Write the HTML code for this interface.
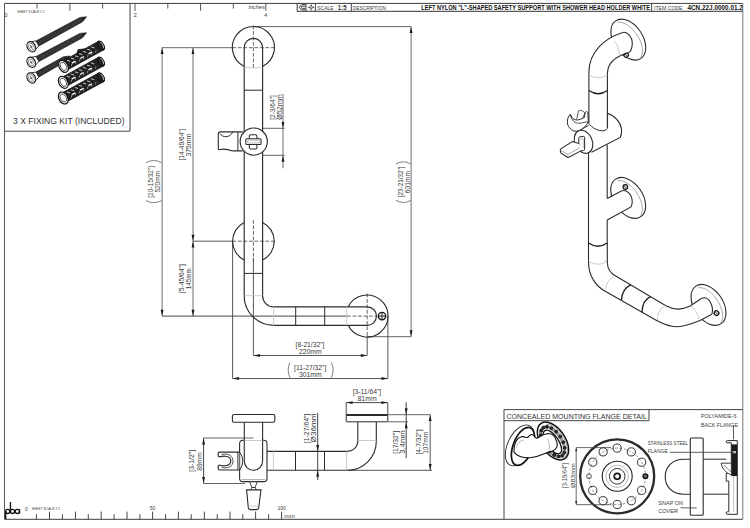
<!DOCTYPE html>
<html><head><meta charset="utf-8"><style>
html,body{margin:0;padding:0;background:#fff;width:750px;height:528px;overflow:hidden}
svg{display:block}
text{font-family:"Liberation Sans",sans-serif}
</style></head><body>
<svg width="750" height="528" viewBox="0 0 750 528">
<line x1="4.5" y1="3.4" x2="742.8" y2="3.4" stroke="#3c3c3c" stroke-width="1.0" />
<line x1="4.5" y1="3.4" x2="4.5" y2="519.3" stroke="#555" stroke-width="1.0" />
<line x1="4.5" y1="519.3" x2="742.8" y2="519.3" stroke="#3c3c3c" stroke-width="1.0" />
<line x1="742.8" y1="3.4" x2="742.8" y2="519.3" stroke="#777" stroke-width="1.0" />
<line x1="37.0" y1="3.4" x2="37.0" y2="8.6" stroke="#444" stroke-width="0.9" />
<line x1="69.9" y1="3.4" x2="69.9" y2="10.8" stroke="#444" stroke-width="0.9" />
<line x1="102.6" y1="3.4" x2="102.6" y2="8.6" stroke="#444" stroke-width="0.9" />
<line x1="135.0" y1="3.4" x2="135.0" y2="10.8" stroke="#444" stroke-width="0.9" />
<line x1="167.8" y1="3.4" x2="167.8" y2="8.6" stroke="#444" stroke-width="0.9" />
<line x1="200.6" y1="3.4" x2="200.6" y2="10.8" stroke="#444" stroke-width="0.9" />
<line x1="233.3" y1="3.4" x2="233.3" y2="8.6" stroke="#444" stroke-width="0.9" />
<line x1="265.8" y1="3.4" x2="265.8" y2="10.8" stroke="#444" stroke-width="0.9" />
<text x="6.0" y="16.5" font-size="6.0" text-anchor="middle" fill="#3a3a3a" font-weight="normal" font-style="normal" textLength="3.0" lengthAdjust="spacingAndGlyphs" >0</text>
<text x="135.3" y="16.6" font-size="6.0" text-anchor="middle" fill="#3a3a3a" font-weight="normal" font-style="normal" textLength="3.0" lengthAdjust="spacingAndGlyphs" >2</text>
<text x="265.8" y="16.6" font-size="6.0" text-anchor="middle" fill="#3a3a3a" font-weight="normal" font-style="normal" textLength="3.0" lengthAdjust="spacingAndGlyphs" >4</text>
<text x="248.4" y="9.2" font-size="5.0" text-anchor="start" fill="#3a3a3a" font-weight="normal" font-style="italic" textLength="16.4" lengthAdjust="spacingAndGlyphs" >inches</text>
<text x="17" y="13.2" font-size="3.3" text-anchor="start" fill="#3a3a3a" font-weight="normal" font-style="italic" textLength="27.5" lengthAdjust="spacingAndGlyphs" >SHEET SCALE 1:1</text>
<line x1="297.2" y1="11.3" x2="742.8" y2="11.3" stroke="#333" stroke-width="1.0" />
<line x1="297.2" y1="3.4" x2="297.2" y2="11.3" stroke="#333" stroke-width="1.0" />
<line x1="306.0" y1="3.4" x2="306.0" y2="11.3" stroke="#333" stroke-width="0.9" />
<line x1="315.4" y1="3.4" x2="315.4" y2="11.3" stroke="#333" stroke-width="0.9" />
<line x1="351.3" y1="3.4" x2="351.3" y2="11.3" stroke="#333" stroke-width="0.9" />
<line x1="651.6" y1="3.4" x2="651.6" y2="11.3" stroke="#333" stroke-width="0.9" />
<path d="M305.6,4.7 L301.6,4.7 L299.2,7.3 L301.6,9.9 L305.6,9.9" stroke="#333" stroke-width="1.0" fill="none" />
<path d="M305.6,6.2 L302.4,6.2 Q301.4,6.2 301.4,7.3 Q301.4,8.4 302.4,8.4 L305.6,8.4" stroke="#333" stroke-width="0.9" fill="none" />
<path d="M311.2,4.2 L310.1,6.3 L312.3,6.3 Z M311.2,10.6 L310.1,8.5 L312.3,8.5 Z M307.9,7.4 L310.0,6.3 L310.0,8.5 Z M314.5,7.4 L312.4,6.3 L312.4,8.5 Z" stroke="none" stroke-width="0" fill="#2a2a2a" />
<line x1="308.5" y1="7.4" x2="314" y2="7.4" stroke="#777" stroke-width="0.5" />
<line x1="311.2" y1="4.8" x2="311.2" y2="10" stroke="#777" stroke-width="0.5" />
<text x="317.2" y="9.8" font-size="5.4" text-anchor="start" fill="#3a3a3a" font-weight="normal" font-style="normal" textLength="16.4" lengthAdjust="spacingAndGlyphs" >SCALE</text>
<text x="337.8" y="9.9" font-size="6.3" text-anchor="start" fill="#3a3a3a" font-weight="bold" font-style="normal" textLength="9.0" lengthAdjust="spacingAndGlyphs" >1:5</text>
<text x="352.7" y="9.8" font-size="5.0" text-anchor="start" fill="#3a3a3a" font-weight="normal" font-style="normal" textLength="33.3" lengthAdjust="spacingAndGlyphs" >DESCRIPTION</text>
<text x="421.3" y="9.9" font-size="6.3" text-anchor="start" fill="#111" font-weight="bold" font-style="normal" textLength="228.7" lengthAdjust="spacingAndGlyphs" >LEFT NYLON "L"-SHAPED SAFETY SUPPORT WITH SHOWER HEAD HOLDER WHITE</text>
<text x="654" y="9.9" font-size="5.5" text-anchor="start" fill="#3a3a3a" font-weight="normal" font-style="normal" textLength="28.5" lengthAdjust="spacingAndGlyphs" >ITEM CODE</text>
<text x="687.4" y="10.0" font-size="6.5" text-anchor="start" fill="#111" font-weight="bold" font-style="normal" textLength="55.5" lengthAdjust="spacingAndGlyphs" >4CN.22J.0000.01.2</text>
<line x1="130.0" y1="3.4" x2="130.0" y2="131.2" stroke="#444" stroke-width="1.0" />
<line x1="4.5" y1="131.2" x2="130.0" y2="131.2" stroke="#444" stroke-width="1.0" />
<text x="68.8" y="124.2" font-size="9.6" text-anchor="middle" fill="#333" font-weight="normal" font-style="normal" textLength="111.5" lengthAdjust="spacingAndGlyphs" >3 X FIXING KIT (INCLUDED)</text>
<path d="M38.84,46.01 L82.42,21.86 L86.50,16.80 L80.03,17.47 L36.07,40.91 Z" fill="#262626" stroke="#1a1a1a" stroke-width="0.7"/>
<path d="M39.68,44.41 L38.65,40.64" stroke="#999" stroke-width="0.3"/>
<path d="M41.34,43.50 L40.32,39.73" stroke="#999" stroke-width="0.3"/>
<path d="M43.01,42.60 L41.99,38.83" stroke="#999" stroke-width="0.3"/>
<path d="M44.68,41.69 L43.66,37.92" stroke="#999" stroke-width="0.3"/>
<path d="M46.35,40.78 L45.33,37.01" stroke="#999" stroke-width="0.3"/>
<path d="M48.02,39.87 L47.00,36.11" stroke="#999" stroke-width="0.3"/>
<path d="M49.69,38.97 L48.67,35.20" stroke="#999" stroke-width="0.3"/>
<path d="M51.36,38.06 L50.34,34.29" stroke="#999" stroke-width="0.3"/>
<path d="M53.03,37.15 L52.01,33.38" stroke="#999" stroke-width="0.3"/>
<path d="M54.70,36.25 L53.68,32.48" stroke="#999" stroke-width="0.3"/>
<path d="M56.37,35.34 L55.35,31.57" stroke="#999" stroke-width="0.3"/>
<path d="M58.04,34.43 L57.02,30.66" stroke="#999" stroke-width="0.3"/>
<path d="M59.71,33.52 L58.68,29.75" stroke="#999" stroke-width="0.3"/>
<path d="M61.38,32.62 L60.35,28.85" stroke="#999" stroke-width="0.3"/>
<path d="M63.05,31.71 L62.02,27.94" stroke="#999" stroke-width="0.3"/>
<path d="M64.72,30.80 L63.69,27.03" stroke="#999" stroke-width="0.3"/>
<path d="M66.39,29.89 L65.36,26.13" stroke="#999" stroke-width="0.3"/>
<path d="M68.06,28.99 L67.03,25.22" stroke="#999" stroke-width="0.3"/>
<path d="M69.72,28.08 L68.70,24.31" stroke="#999" stroke-width="0.3"/>
<path d="M71.39,27.17 L70.37,23.40" stroke="#999" stroke-width="0.3"/>
<path d="M73.06,26.27 L72.04,22.50" stroke="#999" stroke-width="0.3"/>
<path d="M74.73,25.36 L73.71,21.59" stroke="#999" stroke-width="0.3"/>
<path d="M76.40,24.45 L75.38,20.68" stroke="#999" stroke-width="0.3"/>
<path d="M78.07,23.54 L77.05,19.77" stroke="#999" stroke-width="0.3"/>
<path d="M79.74,22.64 L78.72,18.87" stroke="#999" stroke-width="0.3"/>
<path d="M81.41,21.73 L80.39,17.96" stroke="#999" stroke-width="0.3"/>
<path d="M33.83,51.46 L38.84,46.01 L36.07,40.91 L28.77,42.14 Z" fill="#fff" stroke="#222" stroke-width="0.9"/>
<ellipse cx="31.3" cy="46.8" rx="4.0" ry="5.4" transform="rotate(-28.52311860631203 31.3 46.8)" stroke="#1e1e1e" stroke-width="1.2" fill="#fff" />
<ellipse cx="31.3" cy="46.8" rx="2.6" ry="3.6" transform="rotate(-28.52311860631203 31.3 46.8)" stroke="#555" stroke-width="0.6" fill="#fff" />
<path d="M30.34,45.04 L32.26,48.56 M29.98,47.52 L32.62,46.08" stroke="#444" stroke-width="0.8"/>
<path d="M38.84,61.56 L82.39,37.83 L86.50,32.80 L80.03,33.42 L36.11,56.44 Z" fill="#262626" stroke="#1a1a1a" stroke-width="0.7"/>
<path d="M39.69,59.97 L38.69,56.19" stroke="#999" stroke-width="0.3"/>
<path d="M41.37,59.07 L40.37,55.30" stroke="#999" stroke-width="0.3"/>
<path d="M43.04,58.18 L42.05,54.40" stroke="#999" stroke-width="0.3"/>
<path d="M44.72,57.28 L43.72,53.51" stroke="#999" stroke-width="0.3"/>
<path d="M46.40,56.39 L45.40,52.61" stroke="#999" stroke-width="0.3"/>
<path d="M48.07,55.49 L47.07,51.72" stroke="#999" stroke-width="0.3"/>
<path d="M49.75,54.60 L48.75,50.82" stroke="#999" stroke-width="0.3"/>
<path d="M51.42,53.70 L50.42,49.92" stroke="#999" stroke-width="0.3"/>
<path d="M53.10,52.81 L52.10,49.03" stroke="#999" stroke-width="0.3"/>
<path d="M54.77,51.91 L53.78,48.13" stroke="#999" stroke-width="0.3"/>
<path d="M56.45,51.01 L55.45,47.24" stroke="#999" stroke-width="0.3"/>
<path d="M58.12,50.12 L57.13,46.34" stroke="#999" stroke-width="0.3"/>
<path d="M59.80,49.22 L58.80,45.45" stroke="#999" stroke-width="0.3"/>
<path d="M61.48,48.33 L60.48,44.55" stroke="#999" stroke-width="0.3"/>
<path d="M63.15,47.43 L62.15,43.66" stroke="#999" stroke-width="0.3"/>
<path d="M64.83,46.54 L63.83,42.76" stroke="#999" stroke-width="0.3"/>
<path d="M66.50,45.64 L65.51,41.87" stroke="#999" stroke-width="0.3"/>
<path d="M68.18,44.75 L67.18,40.97" stroke="#999" stroke-width="0.3"/>
<path d="M69.85,43.85 L68.86,40.07" stroke="#999" stroke-width="0.3"/>
<path d="M71.53,42.95 L70.53,39.18" stroke="#999" stroke-width="0.3"/>
<path d="M73.21,42.06 L72.21,38.28" stroke="#999" stroke-width="0.3"/>
<path d="M74.88,41.16 L73.88,37.39" stroke="#999" stroke-width="0.3"/>
<path d="M76.56,40.27 L75.56,36.49" stroke="#999" stroke-width="0.3"/>
<path d="M78.23,39.37 L77.24,35.60" stroke="#999" stroke-width="0.3"/>
<path d="M79.91,38.48 L78.91,34.70" stroke="#999" stroke-width="0.3"/>
<path d="M81.58,37.58 L80.59,33.81" stroke="#999" stroke-width="0.3"/>
<path d="M33.80,66.97 L38.84,61.56 L36.11,56.44 L28.80,57.63 Z" fill="#fff" stroke="#222" stroke-width="0.9"/>
<ellipse cx="31.3" cy="62.3" rx="4.0" ry="5.4" transform="rotate(-28.12095139944644 31.3 62.3)" stroke="#1e1e1e" stroke-width="1.2" fill="#fff" />
<ellipse cx="31.3" cy="62.3" rx="2.6" ry="3.6" transform="rotate(-28.12095139944644 31.3 62.3)" stroke="#555" stroke-width="0.6" fill="#fff" />
<path d="M30.36,60.54 L32.24,64.06 M29.98,63.01 L32.62,61.59" stroke="#444" stroke-width="0.8"/>
<path d="M38.82,77.06 L66.02,61.14 L70.00,56.00 L63.55,56.79 L35.95,72.02 Z" fill="#262626" stroke="#1a1a1a" stroke-width="0.7"/>
<path d="M39.63,75.45 L38.53,71.70" stroke="#999" stroke-width="0.3"/>
<path d="M41.28,74.51 L40.18,70.76" stroke="#999" stroke-width="0.3"/>
<path d="M42.93,73.57 L41.84,69.82" stroke="#999" stroke-width="0.3"/>
<path d="M44.58,72.63 L43.49,68.89" stroke="#999" stroke-width="0.3"/>
<path d="M46.24,71.70 L45.14,67.95" stroke="#999" stroke-width="0.3"/>
<path d="M47.89,70.76 L46.79,67.01" stroke="#999" stroke-width="0.3"/>
<path d="M49.54,69.82 L48.44,66.07" stroke="#999" stroke-width="0.3"/>
<path d="M51.19,68.88 L50.10,65.13" stroke="#999" stroke-width="0.3"/>
<path d="M52.84,67.94 L51.75,64.19" stroke="#999" stroke-width="0.3"/>
<path d="M54.49,67.00 L53.40,63.25" stroke="#999" stroke-width="0.3"/>
<path d="M56.15,66.06 L55.05,62.31" stroke="#999" stroke-width="0.3"/>
<path d="M57.80,65.12 L56.70,61.37" stroke="#999" stroke-width="0.3"/>
<path d="M59.45,64.18 L58.35,60.43" stroke="#999" stroke-width="0.3"/>
<path d="M61.10,63.24 L60.01,59.50" stroke="#999" stroke-width="0.3"/>
<path d="M62.75,62.31 L61.66,58.56" stroke="#999" stroke-width="0.3"/>
<path d="M64.40,61.37 L63.31,57.62" stroke="#999" stroke-width="0.3"/>
<path d="M33.92,82.61 L38.82,77.06 L35.95,72.02 L28.68,73.39 Z" fill="#fff" stroke="#222" stroke-width="0.9"/>
<ellipse cx="31.3" cy="78.0" rx="4.0" ry="5.4" transform="rotate(-29.61716731617809 31.3 78.0)" stroke="#1e1e1e" stroke-width="1.2" fill="#fff" />
<ellipse cx="31.3" cy="78.0" rx="2.6" ry="3.6" transform="rotate(-29.61716731617809 31.3 78.0)" stroke="#555" stroke-width="0.6" fill="#fff" />
<path d="M30.31,76.26 L32.29,79.74 M30.00,78.74 L32.60,77.26" stroke="#444" stroke-width="0.8"/>
<path d="M65.93,70.77 L103.43,49.97 L98.57,41.23 L61.07,62.03 Z" fill="#222" stroke="#111" stroke-width="0.8"/>
<path d="M76.82,53.30 L78.18,49.57 L84.69,48.93 Z" fill="#222" stroke="#111" stroke-width="0.8"/>
<path d="M67.00,60.34 L70.26,61.28" stroke="#eee" stroke-width="0.8"/>
<path d="M71.37,66.15 L71.97,63.53" stroke="#ccc" stroke-width="0.6"/>
<path d="M71.02,58.11 L74.29,59.04" stroke="#eee" stroke-width="0.8"/>
<path d="M75.39,63.92 L75.99,61.30" stroke="#ccc" stroke-width="0.6"/>
<path d="M75.05,55.88 L78.31,56.81" stroke="#eee" stroke-width="0.8"/>
<path d="M79.41,61.69 L80.02,59.07" stroke="#ccc" stroke-width="0.6"/>
<path d="M79.07,53.65 L82.33,54.58" stroke="#eee" stroke-width="0.8"/>
<path d="M83.44,59.46 L84.04,56.84" stroke="#ccc" stroke-width="0.6"/>
<path d="M83.09,51.42 L86.35,52.35" stroke="#eee" stroke-width="0.8"/>
<path d="M87.46,57.23 L88.06,54.61" stroke="#ccc" stroke-width="0.6"/>
<path d="M87.11,49.19 L90.38,50.12" stroke="#eee" stroke-width="0.8"/>
<path d="M91.48,55.00 L92.08,52.37" stroke="#ccc" stroke-width="0.6"/>
<path d="M91.14,46.95 L94.40,47.89" stroke="#eee" stroke-width="0.8"/>
<path d="M95.50,52.77 L96.11,50.14" stroke="#ccc" stroke-width="0.6"/>
<path d="M71.95,63.08 L75.45,61.14" stroke="#fff" stroke-width="1.3"/>
<path d="M80.26,58.48 L83.76,56.54" stroke="#fff" stroke-width="1.3"/>
<path d="M88.57,53.87 L92.07,51.93" stroke="#fff" stroke-width="1.3"/>
<ellipse cx="101.0" cy="45.6" rx="2.8" ry="5.0" transform="rotate(-29.01567152555858 101.0 45.6)" stroke="#111" stroke-width="1.0" fill="#222" />
<path d="M103.75,48.08 Q103.62,44.14 100.35,41.96" stroke="#eee" stroke-width="0.8" fill="none"/>
<ellipse cx="63.5" cy="66.4" rx="4.4" ry="6.4" transform="rotate(-29.01567152555858 63.5 66.4)" stroke="#111" stroke-width="1.2" fill="#fff" />
<ellipse cx="63.5" cy="66.4" rx="2.8" ry="4.3" transform="rotate(-29.01567152555858 63.5 66.4)" stroke="#333" stroke-width="0.8" fill="#fff" />
<path d="M65.71,86.68 L103.41,65.98 L98.59,57.22 L60.89,77.92 Z" fill="#222" stroke="#111" stroke-width="0.8"/>
<path d="M66.83,76.26 L70.09,77.21" stroke="#eee" stroke-width="0.8"/>
<path d="M71.17,82.09 L71.78,79.47" stroke="#ccc" stroke-width="0.6"/>
<path d="M70.86,74.04 L74.12,74.99" stroke="#eee" stroke-width="0.8"/>
<path d="M75.20,79.87 L75.82,77.25" stroke="#ccc" stroke-width="0.6"/>
<path d="M74.89,71.83 L78.15,72.78" stroke="#eee" stroke-width="0.8"/>
<path d="M79.23,77.66 L79.85,75.04" stroke="#ccc" stroke-width="0.6"/>
<path d="M78.92,69.61 L82.18,70.56" stroke="#eee" stroke-width="0.8"/>
<path d="M83.27,75.44 L83.88,72.83" stroke="#ccc" stroke-width="0.6"/>
<path d="M82.96,67.40 L86.21,68.35" stroke="#eee" stroke-width="0.8"/>
<path d="M87.30,73.23 L87.91,70.61" stroke="#ccc" stroke-width="0.6"/>
<path d="M86.99,65.19 L90.25,66.14" stroke="#eee" stroke-width="0.8"/>
<path d="M91.33,71.02 L91.94,68.40" stroke="#ccc" stroke-width="0.6"/>
<path d="M91.02,62.97 L94.28,63.92" stroke="#eee" stroke-width="0.8"/>
<path d="M95.36,68.80 L95.98,66.18" stroke="#ccc" stroke-width="0.6"/>
<path d="M71.77,79.02 L75.27,77.10" stroke="#fff" stroke-width="1.3"/>
<path d="M80.09,74.45 L83.60,72.52" stroke="#fff" stroke-width="1.3"/>
<path d="M88.42,69.88 L91.93,67.95" stroke="#fff" stroke-width="1.3"/>
<ellipse cx="101.0" cy="61.6" rx="2.8" ry="5.0" transform="rotate(-28.769939063476432 101.0 61.6)" stroke="#111" stroke-width="1.0" fill="#222" />
<path d="M103.74,64.09 Q103.63,60.16 100.37,57.95" stroke="#eee" stroke-width="0.8" fill="none"/>
<ellipse cx="63.3" cy="82.3" rx="4.4" ry="6.4" transform="rotate(-28.769939063476432 63.3 82.3)" stroke="#111" stroke-width="1.2" fill="#fff" />
<ellipse cx="63.3" cy="82.3" rx="2.8" ry="4.3" transform="rotate(-28.769939063476432 63.3 82.3)" stroke="#333" stroke-width="0.8" fill="#fff" />
<path d="M65.70,102.39 L103.40,81.79 L98.60,73.01 L60.90,93.61 Z" fill="#222" stroke="#111" stroke-width="0.8"/>
<path d="M66.84,91.96 L70.10,92.92" stroke="#eee" stroke-width="0.8"/>
<path d="M71.17,97.80 L71.79,95.18" stroke="#ccc" stroke-width="0.6"/>
<path d="M70.88,89.76 L74.13,90.71" stroke="#eee" stroke-width="0.8"/>
<path d="M75.21,95.60 L75.83,92.98" stroke="#ccc" stroke-width="0.6"/>
<path d="M74.91,87.55 L78.17,88.51" stroke="#eee" stroke-width="0.8"/>
<path d="M79.24,93.39 L79.86,90.77" stroke="#ccc" stroke-width="0.6"/>
<path d="M78.95,85.35 L82.21,86.30" stroke="#eee" stroke-width="0.8"/>
<path d="M83.28,91.19 L83.90,88.57" stroke="#ccc" stroke-width="0.6"/>
<path d="M82.99,83.14 L86.24,84.10" stroke="#eee" stroke-width="0.8"/>
<path d="M87.32,88.98 L87.94,86.36" stroke="#ccc" stroke-width="0.6"/>
<path d="M87.02,80.94 L90.28,81.89" stroke="#eee" stroke-width="0.8"/>
<path d="M91.35,86.77 L91.97,84.16" stroke="#ccc" stroke-width="0.6"/>
<path d="M91.06,78.73 L94.32,79.68" stroke="#eee" stroke-width="0.8"/>
<path d="M95.39,84.57 L96.01,81.95" stroke="#ccc" stroke-width="0.6"/>
<path d="M71.77,94.74 L75.28,92.82" stroke="#fff" stroke-width="1.3"/>
<path d="M80.11,90.18 L83.62,88.26" stroke="#fff" stroke-width="1.3"/>
<path d="M88.45,85.63 L91.96,83.71" stroke="#fff" stroke-width="1.3"/>
<ellipse cx="101.0" cy="77.4" rx="2.8" ry="5.0" transform="rotate(-28.65303500980133 101.0 77.4)" stroke="#111" stroke-width="1.0" fill="#222" />
<path d="M103.73,79.90 Q103.63,75.96 100.37,73.75" stroke="#eee" stroke-width="0.8" fill="none"/>
<ellipse cx="63.3" cy="98.0" rx="4.4" ry="6.4" transform="rotate(-28.65303500980133 63.3 98.0)" stroke="#111" stroke-width="1.2" fill="#fff" />
<ellipse cx="63.3" cy="98.0" rx="2.8" ry="4.3" transform="rotate(-28.65303500980133 63.3 98.0)" stroke="#333" stroke-width="0.8" fill="#fff" />
<line x1="161.7" y1="47.7" x2="232.4" y2="47.7" stroke="#555" stroke-width="0.9" />
<line x1="162.1" y1="47.7" x2="162.1" y2="316.1" stroke="#5e5e5e" stroke-width="0.9" />
<line x1="193.0" y1="47.7" x2="193.0" y2="316.1" stroke="#5e5e5e" stroke-width="0.9" />
<line x1="193.0" y1="241.2" x2="232.4" y2="241.2" stroke="#444" stroke-width="0.9" />
<line x1="162.1" y1="316.1" x2="347" y2="316.1" stroke="#333" stroke-width="0.9" />
<path d="M162.10,47.90 L163.55,54.10 L160.65,54.10 Z" fill="#1a1a1a"/>
<path d="M162.10,315.90 L160.65,309.70 L163.55,309.70 Z" fill="#1a1a1a"/>
<path d="M193.00,47.90 L194.45,54.10 L191.55,54.10 Z" fill="#1a1a1a"/>
<path d="M193.00,241.00 L191.55,234.80 L194.45,234.80 Z" fill="#1a1a1a"/>
<path d="M193.00,241.40 L194.45,247.60 L191.55,247.60 Z" fill="#1a1a1a"/>
<path d="M193.00,315.90 L191.55,309.70 L194.45,309.70 Z" fill="#1a1a1a"/>
<line x1="254" y1="26.6" x2="411.1" y2="26.6" stroke="#555" stroke-width="0.9" />
<line x1="411.1" y1="26.6" x2="411.1" y2="336.7" stroke="#5e5e5e" stroke-width="0.9" />
<line x1="367.2" y1="336.7" x2="411.1" y2="336.7" stroke="#555" stroke-width="0.9" />
<path d="M411.10,26.80 L412.55,33.00 L409.65,33.00 Z" fill="#1a1a1a"/>
<path d="M411.10,336.50 L409.65,330.30 L412.55,330.30 Z" fill="#1a1a1a"/>
<line x1="262.6" y1="128.3" x2="284.5" y2="128.3" stroke="#555" stroke-width="0.9" />
<line x1="262.6" y1="155.3" x2="284.5" y2="155.3" stroke="#555" stroke-width="0.9" />
<line x1="283.0" y1="94.2" x2="283.0" y2="168.3" stroke="#5e5e5e" stroke-width="0.9" />
<path d="M283.00,128.10 L281.55,121.90 L284.45,121.90 Z" fill="#1a1a1a"/>
<path d="M283.00,155.50 L284.45,161.70 L281.55,161.70 Z" fill="#1a1a1a"/>
<line x1="253.4" y1="258" x2="253.4" y2="355.5" stroke="#444" stroke-width="0.9" />
<line x1="367.2" y1="337" x2="367.2" y2="355.5" stroke="#444" stroke-width="0.9" />
<line x1="253.4" y1="355.5" x2="367.2" y2="355.5" stroke="#444" stroke-width="0.9" />
<path d="M253.60,355.50 L259.80,354.05 L259.80,356.95 Z" fill="#1a1a1a"/>
<path d="M367.00,355.50 L360.80,356.95 L360.80,354.05 Z" fill="#1a1a1a"/>
<line x1="232.6" y1="241.2" x2="232.6" y2="378.5" stroke="#444" stroke-width="0.9" />
<line x1="387.9" y1="316.1" x2="387.9" y2="378.5" stroke="#444" stroke-width="0.9" />
<line x1="232.6" y1="378.5" x2="387.9" y2="378.5" stroke="#444" stroke-width="0.9" />
<path d="M232.80,378.50 L239.00,377.05 L239.00,379.95 Z" fill="#1a1a1a"/>
<path d="M387.70,378.50 L381.50,379.95 L381.50,377.05 Z" fill="#1a1a1a"/>
<text x="153.3" y="181.8" font-size="7.8" text-anchor="middle" fill="#3a3a3a" font-weight="normal" font-style="normal" transform="rotate(-90 153.3 181.8)" textLength="31.8" lengthAdjust="spacingAndGlyphs" >[20-15/32"]</text>
<text x="160.2" y="181.8" font-size="6.9" text-anchor="middle" fill="#3a3a3a" font-weight="normal" font-style="normal" transform="rotate(-90 160.2 181.8)" textLength="21.6" lengthAdjust="spacingAndGlyphs" >520mm</text>
<path d="M146,162.6 Q153.8,158.4 161.5,162.6" stroke="#5e5e5e" stroke-width="0.8" fill="none" />
<path d="M146,200.6 Q153.8,204.8 161.5,200.6" stroke="#5e5e5e" stroke-width="0.8" fill="none" />
<text x="184.4" y="144.5" font-size="7.8" text-anchor="middle" fill="#3a3a3a" font-weight="normal" font-style="normal" transform="rotate(-90 184.4 144.5)" textLength="31.9" lengthAdjust="spacingAndGlyphs" >[14-49/64"]</text>
<text x="191.5" y="145.2" font-size="6.9" text-anchor="middle" fill="#3a3a3a" font-weight="normal" font-style="normal" transform="rotate(-90 191.5 145.2)" textLength="22.7" lengthAdjust="spacingAndGlyphs" >375mm</text>
<text x="184.4" y="278.7" font-size="7.8" text-anchor="middle" fill="#3a3a3a" font-weight="normal" font-style="normal" transform="rotate(-90 184.4 278.7)" textLength="29" lengthAdjust="spacingAndGlyphs" >[5-45/64"]</text>
<text x="191.5" y="278.7" font-size="6.9" text-anchor="middle" fill="#3a3a3a" font-weight="normal" font-style="normal" transform="rotate(-90 191.5 278.7)" textLength="21" lengthAdjust="spacingAndGlyphs" >145mm</text>
<text x="274.7" y="107.5" font-size="7.8" text-anchor="middle" fill="#3a3a3a" font-weight="normal" font-style="normal" transform="rotate(-90 274.7 107.5)" textLength="24.6" lengthAdjust="spacingAndGlyphs" >[2-3/64"]</text>
<text x="281.7" y="107.0" font-size="6.9" text-anchor="middle" fill="#3a3a3a" font-weight="normal" font-style="normal" transform="rotate(-90 281.7 107.0)" textLength="25.6" lengthAdjust="spacingAndGlyphs" >Ø52mm</text>
<text x="402.7" y="181.9" font-size="7.8" text-anchor="middle" fill="#3a3a3a" font-weight="normal" font-style="normal" transform="rotate(-90 402.7 181.9)" textLength="30.7" lengthAdjust="spacingAndGlyphs" >[23-21/32"]</text>
<text x="409.7" y="182.1" font-size="6.9" text-anchor="middle" fill="#3a3a3a" font-weight="normal" font-style="normal" transform="rotate(-90 409.7 182.1)" textLength="22.2" lengthAdjust="spacingAndGlyphs" >601mm</text>
<path d="M396,164 Q403.5,159.6 411,164" stroke="#5e5e5e" stroke-width="0.8" fill="none" />
<path d="M396,200.3 Q403.5,204.7 411,200.3" stroke="#5e5e5e" stroke-width="0.8" fill="none" />
<text x="310.0" y="346.9" font-size="7.5" text-anchor="middle" fill="#3a3a3a" font-weight="normal" font-style="normal" textLength="28.9" lengthAdjust="spacingAndGlyphs" >[8-21/32"]</text>
<text x="310.3" y="354.0" font-size="7.2" text-anchor="middle" fill="#3a3a3a" font-weight="normal" font-style="normal" textLength="22.8" lengthAdjust="spacingAndGlyphs" >220mm</text>
<text x="310.2" y="369.6" font-size="7.5" text-anchor="middle" fill="#3a3a3a" font-weight="normal" font-style="normal" textLength="32.4" lengthAdjust="spacingAndGlyphs" >[11-27/32"]</text>
<text x="310.3" y="376.8" font-size="7.2" text-anchor="middle" fill="#3a3a3a" font-weight="normal" font-style="normal" textLength="22.8" lengthAdjust="spacingAndGlyphs" >301mm</text>
<path d="M290,362.5 Q286.3,370 290,377.6" stroke="#5e5e5e" stroke-width="0.8" fill="none" />
<path d="M331.3,362.5 Q335,370 331.3,377.6" stroke="#5e5e5e" stroke-width="0.8" fill="none" />
<path d="M262.6,66.4 A21,21 0 1 0 244.2,66.4" stroke="#2b2b2b" stroke-width="1.15" fill="none" />
<path d="M244.2,222.4 A21,21 0 0 0 244.2,260.0" stroke="#2b2b2b" stroke-width="1.15" fill="none" />
<path d="M262.6,222.4 A21,21 0 0 1 262.6,260.0" stroke="#2b2b2b" stroke-width="1.15" fill="none" />
<line x1="253.4" y1="25.5" x2="253.4" y2="69.5" stroke="#4a4a4a" stroke-width="0.85" stroke-dasharray="3.8,1.7"/>
<line x1="232.4" y1="47.7" x2="275" y2="47.7" stroke="#4a4a4a" stroke-width="0.85" stroke-dasharray="3.8,1.7"/>
<line x1="253.4" y1="220" x2="253.4" y2="262" stroke="#4a4a4a" stroke-width="0.85" stroke-dasharray="3.8,1.7"/>
<line x1="232.4" y1="241.2" x2="275" y2="241.2" stroke="#4a4a4a" stroke-width="0.85" stroke-dasharray="3.8,1.7"/>
<line x1="367.2" y1="293.5" x2="367.2" y2="337" stroke="#4a4a4a" stroke-width="0.85" stroke-dasharray="3.8,1.7"/>
<line x1="347" y1="316.1" x2="376" y2="316.1" stroke="#4a4a4a" stroke-width="0.85" stroke-dasharray="3.8,1.7"/>
<path d="M244.2,295.7 L244.2,47.6 A9.2,9.2 0 0 1 262.6,47.6 L262.6,295.7" stroke="#2b2b2b" stroke-width="1.15" fill="none" />
<line x1="244.2" y1="67.7" x2="262.6" y2="67.7" stroke="#c4c4c4" stroke-width="0.9" />
<line x1="244.2" y1="90.2" x2="262.6" y2="90.2" stroke="#2b2b2b" stroke-width="1.0" />
<line x1="244.2" y1="273.4" x2="262.6" y2="273.4" stroke="#2b2b2b" stroke-width="1.0" />
<line x1="244.2" y1="295.7" x2="262.6" y2="295.7" stroke="#c4c4c4" stroke-width="0.9" />
<path d="M244.2,295.7 A29.4,29.4 0 0 0 273.6,325.3" stroke="#2b2b2b" stroke-width="1.15" fill="none" />
<path d="M262.6,295.7 A11.0,11.0 0 0 0 273.6,306.8" stroke="#2b2b2b" stroke-width="1.15" fill="none" />
<path d="M273.6,306.8 L367.2,306.8 A9.25,9.25 0 0 1 367.2,325.3 L273.6,325.3" stroke="#2b2b2b" stroke-width="1.15" fill="none" />
<line x1="273.6" y1="306.8" x2="273.6" y2="325.3" stroke="#c4c4c4" stroke-width="0.9" />
<line x1="346.7" y1="306.8" x2="346.7" y2="325.3" stroke="#c4c4c4" stroke-width="0.9" />
<line x1="295.7" y1="306.8" x2="295.7" y2="325.3" stroke="#2b2b2b" stroke-width="1.0" />
<line x1="324.7" y1="306.8" x2="324.7" y2="325.3" stroke="#2b2b2b" stroke-width="1.0" />
<path d="M348.2,306.8 A21,21 0 1 1 348.2,325.3" stroke="#2b2b2b" stroke-width="1.15" fill="none" />
<circle cx="382.0" cy="316.1" r="3.7" stroke="#1a1a1a" stroke-width="1.4" fill="#fff" />
<line x1="382.0" y1="313.0" x2="382.0" y2="319.2" stroke="#222" stroke-width="1.0" />
<line x1="378.9" y1="316.1" x2="385.1" y2="316.1" stroke="#222" stroke-width="1.0" />
<path d="M242.8,131.9 L220.3,131.9 Q218.3,131.9 218.3,133.9 L218.3,148.4 Q218.3,150.2 220.2,149.6 C224,148.4 228,149.4 232.7,150.9 L242.8,150.9" stroke="#2b2b2b" stroke-width="1.1" fill="#fff" />
<path d="M219.9,133.5 C222.5,137.5 229,138.6 232.8,132.1" stroke="#2b2b2b" stroke-width="1.0" fill="none" />
<line x1="237.9" y1="131.9" x2="237.9" y2="150.9" stroke="#2b2b2b" stroke-width="1.0" />
<circle cx="253.75" cy="141.6" r="13.6" stroke="#2b2b2b" stroke-width="1.15" fill="#fff" />
<rect x="249.3" y="134.7" width="7.6" height="14.2" rx="1.3" stroke="#2b2b2b" stroke-width="1.05" fill="#fff" />
<rect x="245.8" y="138.7" width="15.3" height="5.7" rx="1.0" stroke="#2b2b2b" stroke-width="1.05" fill="#fff" />
<rect x="247.6" y="140.2" width="11.8" height="2.7" rx="0.6" stroke="#999" stroke-width="0.7" fill="#fff" />
<line x1="203.6" y1="438.0" x2="253.5" y2="438.0" stroke="#555" stroke-width="0.9" />
<line x1="203.6" y1="483.5" x2="245" y2="483.5" stroke="#555" stroke-width="0.9" />
<line x1="203.6" y1="438.0" x2="203.6" y2="483.5" stroke="#333" stroke-width="0.9" />
<path d="M203.60,438.20 L205.05,444.40 L202.15,444.40 Z" fill="#1a1a1a"/>
<path d="M203.60,483.30 L202.15,477.10 L205.05,477.10 Z" fill="#1a1a1a"/>
<text x="194.4" y="460.8" font-size="7.8" text-anchor="middle" fill="#3a3a3a" font-weight="normal" font-style="normal" transform="rotate(-90 194.4 460.8)" textLength="21.8" lengthAdjust="spacingAndGlyphs" >[3-1/2"]</text>
<text x="201.5" y="461.5" font-size="6.9" text-anchor="middle" fill="#3a3a3a" font-weight="normal" font-style="normal" transform="rotate(-90 201.5 461.5)" textLength="18.5" lengthAdjust="spacingAndGlyphs" >89mm</text>
<line x1="317.7" y1="412.9" x2="317.7" y2="480" stroke="#333" stroke-width="0.9" />
<path d="M317.70,451.20 L316.25,445.00 L319.15,445.00 Z" fill="#1a1a1a"/>
<path d="M317.70,470.50 L319.15,476.70 L316.25,476.70 Z" fill="#1a1a1a"/>
<text x="309.4" y="428.4" font-size="7.8" text-anchor="middle" fill="#3a3a3a" font-weight="normal" font-style="normal" transform="rotate(-90 309.4 428.4)" textLength="29.6" lengthAdjust="spacingAndGlyphs" >[1-27/64"]</text>
<text x="315.6" y="428.0" font-size="6.9" text-anchor="middle" fill="#3a3a3a" font-weight="normal" font-style="normal" transform="rotate(-90 315.6 428.0)" textLength="28.8" lengthAdjust="spacingAndGlyphs" >Ø36mm</text>
<line x1="346.2" y1="402.6" x2="346.2" y2="414.5" stroke="#333" stroke-width="0.9" />
<line x1="387.8" y1="402.6" x2="387.8" y2="414.5" stroke="#333" stroke-width="0.9" />
<line x1="346.2" y1="402.6" x2="387.8" y2="402.6" stroke="#333" stroke-width="0.9" />
<path d="M346.40,402.60 L352.60,401.15 L352.60,404.05 Z" fill="#1a1a1a"/>
<path d="M387.60,402.60 L381.40,404.05 L381.40,401.15 Z" fill="#1a1a1a"/>
<text x="367.0" y="394.4" font-size="7.5" text-anchor="middle" fill="#3a3a3a" font-weight="normal" font-style="normal" textLength="28.5" lengthAdjust="spacingAndGlyphs" >[3-11/64"]</text>
<text x="367.1" y="400.9" font-size="7.2" text-anchor="middle" fill="#3a3a3a" font-weight="normal" font-style="normal" textLength="19.2" lengthAdjust="spacingAndGlyphs" >81mm</text>
<line x1="387.8" y1="414.7" x2="430.5" y2="414.7" stroke="#555" stroke-width="0.9" />
<line x1="387.8" y1="421.8" x2="408" y2="421.8" stroke="#555" stroke-width="0.9" />
<line x1="406.2" y1="402.3" x2="406.2" y2="458.3" stroke="#333" stroke-width="0.9" />
<path d="M406.20,414.50 L404.75,408.30 L407.65,408.30 Z" fill="#1a1a1a"/>
<path d="M406.20,422.00 L407.65,428.20 L404.75,428.20 Z" fill="#1a1a1a"/>
<line x1="430.2" y1="414.7" x2="430.2" y2="470.3" stroke="#444" stroke-width="0.9" />
<path d="M430.20,414.90 L431.65,421.10 L428.75,421.10 Z" fill="#1a1a1a"/>
<path d="M430.20,470.10 L428.75,463.90 L431.65,463.90 Z" fill="#1a1a1a"/>
<line x1="347.2" y1="470.3" x2="432" y2="470.3" stroke="#444" stroke-width="0.9" />
<text x="397.9" y="442.4" font-size="7.8" text-anchor="middle" fill="#3a3a3a" font-weight="normal" font-style="normal" transform="rotate(-90 397.9 442.4)" textLength="22.8" lengthAdjust="spacingAndGlyphs" >[17/32"]</text>
<text x="404.7" y="442.0" font-size="6.9" text-anchor="middle" fill="#3a3a3a" font-weight="normal" font-style="normal" transform="rotate(-90 404.7 442.0)" textLength="23.5" lengthAdjust="spacingAndGlyphs" >3.4mm</text>
<text x="421.4" y="442.0" font-size="7.8" text-anchor="middle" fill="#3a3a3a" font-weight="normal" font-style="normal" transform="rotate(-90 421.4 442.0)" textLength="25" lengthAdjust="spacingAndGlyphs" >[4-7/32"]</text>
<text x="428.0" y="442.8" font-size="6.9" text-anchor="middle" fill="#3a3a3a" font-weight="normal" font-style="normal" transform="rotate(-90 428.0 442.8)" textLength="22" lengthAdjust="spacingAndGlyphs" >107mm</text>
<rect x="232.4" y="414.5" width="42.4" height="7.7" rx="1.5" stroke="#2b2b2b" stroke-width="1.1" fill="#fff" />
<line x1="244.3" y1="422.2" x2="244.3" y2="440.4" stroke="#2b2b2b" stroke-width="1.1" />
<line x1="262.6" y1="422.2" x2="262.6" y2="440.4" stroke="#2b2b2b" stroke-width="1.1" />
<path d="M244.3,440.2 L243,440.2 Q239.6,440.2 239.6,444 L239.6,478.5 Q239.6,481.6 242.8,481.6 L263.8,481.6 Q267.0,481.6 267.0,478.5 L267.0,444 Q267.0,440.2 263.8,440.2 L262.6,440.2" stroke="#2b2b2b" stroke-width="1.1" fill="none" />
<line x1="244.3" y1="440.5" x2="262.6" y2="440.5" stroke="#c4c4c4" stroke-width="0.9" />
<line x1="241.5" y1="479.6" x2="265.1" y2="479.6" stroke="#888" stroke-width="0.7" />
<path d="M244.3,440.4 L244.3,461.1 A9.15,9.15 0 0 0 262.6,461.1 L262.6,440.4" stroke="#2b2b2b" stroke-width="1.1" fill="none" />
<path d="M239.3,452.1 L219.5,452.1 Q218.2,452.1 218.2,453.5 L218.2,455.5 Q218.2,457.0 220,456.8 C224,455.5 230.8,456 230.8,461 C230.8,466 224,466.5 220,465.2 Q218.2,465 218.2,466.5 L218.2,468.6 Q218.2,470 219.5,470 L239.3,470" stroke="#2b2b2b" stroke-width="1.15" fill="#fff" />
<path d="M221.6,454.4 C228,453.2 233,455.5 233,461 C233,466.5 228,468.8 221.6,467.6" stroke="#2b2b2b" stroke-width="0.8" fill="none" />
<line x1="237.9" y1="452.1" x2="237.9" y2="470" stroke="#2b2b2b" stroke-width="1.0" />
<path d="M239.6,452.1 Q246,461 239.6,470" stroke="#2b2b2b" stroke-width="1.0" fill="none" />
<path d="M249.6,481.8 L257.3,481.8 L255.0,487.5 L252.0,487.5 Z" stroke="#2b2b2b" stroke-width="0.9" fill="#fff" />
<path d="M246.6,489.9 L261.0,489.9 L258.7,507.8 Q258.5,509.6 256.6,509.6 L250.4,509.6 Q248.5,509.6 248.3,507.8 Z" stroke="#2b2b2b" stroke-width="1.1" fill="#fff" />
<line x1="248.6" y1="506.0" x2="258.4" y2="506.0" stroke="#c4c4c4" stroke-width="0.8" />
<line x1="251.5" y1="487.5" x2="255.5" y2="487.5" stroke="#2b2b2b" stroke-width="0.9" />
<line x1="252.0" y1="487.5" x2="250.5" y2="489.9" stroke="#2b2b2b" stroke-width="0.8" />
<line x1="255.0" y1="487.5" x2="256.5" y2="489.9" stroke="#2b2b2b" stroke-width="0.8" />
<line x1="267.0" y1="451.4" x2="347.2" y2="451.4" stroke="#2b2b2b" stroke-width="1.1" />
<line x1="267.0" y1="470.3" x2="347.2" y2="470.3" stroke="#2b2b2b" stroke-width="1.1" />
<line x1="273.4" y1="451.4" x2="273.4" y2="470.3" stroke="#c4c4c4" stroke-width="0.9" />
<line x1="346.6" y1="451.4" x2="346.6" y2="470.3" stroke="#c4c4c4" stroke-width="0.9" />
<line x1="295.5" y1="451.4" x2="295.5" y2="470.3" stroke="#2b2b2b" stroke-width="1.0" />
<line x1="324.5" y1="451.4" x2="324.5" y2="470.3" stroke="#2b2b2b" stroke-width="1.0" />
<path d="M347.2,470.3 A29.1,29.1 0 0 0 376.3,441.2 L376.3,421.8" stroke="#2b2b2b" stroke-width="1.1" fill="none" />
<path d="M347.2,451.4 A10.4,10.4 0 0 0 357.8,441.0 L357.8,421.8" stroke="#2b2b2b" stroke-width="1.1" fill="none" />
<line x1="357.8" y1="440.5" x2="376.3" y2="440.5" stroke="#c4c4c4" stroke-width="0.9" />
<rect x="346.2" y="414.5" width="41.6" height="7.3" rx="0.8" stroke="#2b2b2b" stroke-width="1.0" fill="#fff" />
<line x1="346.2" y1="415.3" x2="387.8" y2="415.3" stroke="#2a2a2a" stroke-width="1.4" />
<line x1="36.4" y1="514.2" x2="36.4" y2="519.3" stroke="#333" stroke-width="0.9" />
<line x1="49.5" y1="511.6" x2="49.5" y2="519.3" stroke="#333" stroke-width="0.9" />
<line x1="62.4" y1="514.2" x2="62.4" y2="519.3" stroke="#333" stroke-width="0.9" />
<line x1="75.4" y1="511.6" x2="75.4" y2="519.3" stroke="#333" stroke-width="0.9" />
<line x1="88.3" y1="514.2" x2="88.3" y2="519.3" stroke="#333" stroke-width="0.9" />
<line x1="101.2" y1="511.6" x2="101.2" y2="519.3" stroke="#333" stroke-width="0.9" />
<line x1="114.1" y1="514.2" x2="114.1" y2="519.3" stroke="#333" stroke-width="0.9" />
<line x1="127.0" y1="511.6" x2="127.0" y2="519.3" stroke="#333" stroke-width="0.9" />
<line x1="139.9" y1="514.2" x2="139.9" y2="519.3" stroke="#333" stroke-width="0.9" />
<line x1="152.6" y1="511.6" x2="152.6" y2="519.3" stroke="#333" stroke-width="0.9" />
<line x1="165.6" y1="514.2" x2="165.6" y2="519.3" stroke="#333" stroke-width="0.9" />
<line x1="178.4" y1="511.6" x2="178.4" y2="519.3" stroke="#333" stroke-width="0.9" />
<line x1="191.2" y1="514.2" x2="191.2" y2="519.3" stroke="#333" stroke-width="0.9" />
<line x1="204.4" y1="511.6" x2="204.4" y2="519.3" stroke="#333" stroke-width="0.9" />
<line x1="217.2" y1="514.2" x2="217.2" y2="519.3" stroke="#333" stroke-width="0.9" />
<line x1="230.0" y1="511.6" x2="230.0" y2="519.3" stroke="#333" stroke-width="0.9" />
<line x1="242.8" y1="514.2" x2="242.8" y2="519.3" stroke="#333" stroke-width="0.9" />
<line x1="255.6" y1="511.6" x2="255.6" y2="519.3" stroke="#333" stroke-width="0.9" />
<line x1="268.6" y1="514.2" x2="268.6" y2="519.3" stroke="#333" stroke-width="0.9" />
<line x1="281.6" y1="511.6" x2="281.6" y2="519.3" stroke="#333" stroke-width="0.9" />
<text x="26.4" y="510.9" font-size="5.0" text-anchor="middle" fill="#3a3a3a" font-weight="normal" font-style="normal" >0</text>
<text x="31.8" y="510.4" font-size="3.4" text-anchor="start" fill="#3a3a3a" font-weight="normal" font-style="italic" textLength="28" lengthAdjust="spacingAndGlyphs" >SHEET SCALE 1:1</text>
<text x="152.6" y="510.4" font-size="5.0" text-anchor="middle" fill="#3a3a3a" font-weight="normal" font-style="normal" >50</text>
<text x="281.7" y="510.4" font-size="5.0" text-anchor="middle" fill="#3a3a3a" font-weight="normal" font-style="normal" textLength="8.4" lengthAdjust="spacingAndGlyphs" >100</text>
<text x="284.5" y="517.6" font-size="4.6" text-anchor="start" fill="#3a3a3a" font-weight="normal" font-style="italic" textLength="10.3" lengthAdjust="spacingAndGlyphs" >mm</text>
<circle cx="7.7" cy="511.4" r="2.05" stroke="#111" stroke-width="1.35" fill="none" />
<circle cx="12.5" cy="511.4" r="2.05" stroke="#111" stroke-width="1.35" fill="none" />
<circle cx="17.4" cy="511.4" r="2.1" stroke="#111" stroke-width="1.35" fill="none" />
<line x1="5.65" y1="511.4" x2="5.65" y2="519.2" stroke="#111" stroke-width="1.35" />
<line x1="10.45" y1="502.0" x2="10.45" y2="511.8" stroke="#111" stroke-width="1.35" />
<line x1="19.5" y1="509.3" x2="19.5" y2="513.6" stroke="#111" stroke-width="1.35" />
<ellipse cx="628.3" cy="39.6" rx="22.6" ry="14.5" transform="rotate(56 628.3 39.6)" stroke="#2b2b2b" stroke-width="1.1" fill="#fff" />
<path d="M617.55,22.57 L618.36,22.39 L619.22,22.31 L620.12,22.31 L621.06,22.41 L622.03,22.61 L623.03,22.89 L624.05,23.26 L625.09,23.72 L626.14,24.27 L627.20,24.89 L628.25,25.60 L629.31,26.38 L630.35,27.24 L631.38,28.16 L632.39,29.15 L633.38,30.19 L634.34,31.29 L635.26,32.43 L636.15,33.62 L636.99,34.84 L637.78,36.09 L638.53,37.37 L639.21,38.66 L639.84,39.97 L640.41,41.27 L640.91,42.58 L641.35,43.87 L641.72,45.16 L642.01,46.41 L642.24,47.65 L642.39,48.84 L642.46,50.00 L642.46,51.11 L642.39,52.17 L642.24,53.17 L642.02,54.11 L641.72,54.99 L641.36,55.79 L640.92,56.52 L640.42,57.17" stroke="#9a9a9a" stroke-width="0.9" fill="none" />
<path d="M621.5,33 C626,30.5 632.5,36 632.3,44 C632,49 630,52.5 627.5,53 C617,56 607.4,62 607.4,74 L607.4,127.7 L588.9,123.2 L588.9,72 C589,52 605,38 621.5,33 Z" stroke="none" stroke-width="0" fill="#fff" />
<path d="M621.5,33 C605,38 589,52 588.9,72 L588.9,123.2" stroke="#2b2b2b" stroke-width="1.1" fill="none" />
<path d="M627.5,53 C617,56 607.4,62 607.4,74 L607.4,127.7" stroke="#2b2b2b" stroke-width="1.1" fill="none" />
<path d="M621.5,33 C626,30.5 632.5,36 632.3,44 C632,49 630,52.5 627.5,53" stroke="#2b2b2b" stroke-width="1.1" fill="none" />
<path d="M613.8,40.8 C617.5,44 619.5,50 619.5,56.1" stroke="#c4c4c4" stroke-width="0.9" fill="none" />
<path d="M588.9,75 Q598.2,80.5 607.4,75" stroke="#c4c4c4" stroke-width="0.9" fill="none" />
<path d="M588.9,90.5 Q598.2,97 607.4,90.5" stroke="#1e1e1e" stroke-width="1.3" fill="none" />
<ellipse cx="626.3" cy="55.2" rx="2.3" ry="1.9" transform="rotate(-30 626.3 55.2)" stroke="#111" stroke-width="1.1" fill="#fff" />
<line x1="624.9" y1="54.2" x2="627.7" y2="56.2" stroke="#222" stroke-width="0.8" />
<path d="M588.5,123.2 C592,128 598,131 603,130.8 C606,130.5 607.5,129 607.5,127.7" stroke="#2b2b2b" stroke-width="1.0" fill="none" />
<path d="M607.5,113.5 C614,115 620.5,122 621.5,129 C622,133 621,136 620.2,137.4 L591.5,152.3" stroke="#2b2b2b" stroke-width="1.1" fill="none" />
<path d="M607.5,113.5 L607.5,127.7" stroke="#2b2b2b" stroke-width="1.1" fill="none" />
<ellipse cx="583.5" cy="141.8" rx="8.7" ry="12.0" transform="rotate(-24 583.5 141.8)" stroke="#2b2b2b" stroke-width="1.1" fill="#fff" />
<path d="M579.5,130.4 L588.5,125.5" stroke="#2b2b2b" stroke-width="1.0" fill="none" />
<path d="M578.8,138.2 Q578.8,137 580,136.8 L583.4,136.4 Q584.6,136.3 584.6,137.5 L584.6,149.4 Q584.6,150.6 583.4,150.6 L580,150.8 Q578.8,150.9 578.8,149.6 Z" stroke="#2b2b2b" stroke-width="1.0" fill="#fff" />
<path d="M580.2,139 L583.2,138.6 L583.2,148.2" stroke="#aaa" stroke-width="0.7" fill="none" />
<path d="M578.7,143.6 L572.4,141.6 L560.8,148.9 Q560.0,149.5 560.3,150.6 L560.9,152.9 L567.2,157.2 Q568,157.7 568.8,157.3 L581.4,150.6" stroke="#2b2b2b" stroke-width="1.05" fill="#fff" />
<path d="M560.8,150.2 L567.8,154.4 L579.5,148.0 M567.8,154.4 L568.0,157.3" stroke="#888" stroke-width="0.7" fill="none" />
<path d="M567.4,122.6 C567.2,119 568.5,116 570.3,114.4 L572.3,117.8 C574,120.5 579,121 584.6,117.2 L584.8,113.6 C585.5,111 587,111 587.8,112.5 L588.3,121.8 C586,127 580,131.5 574.7,131.2 C570.5,130 567.6,126.5 567.4,122.6 Z" stroke="#2b2b2b" stroke-width="1.0" fill="#fff" />
<path d="M570.3,114.4 C571,120 575,123.8 580,123.2 C584,122.6 587,121.5 588.3,121.8 M576.7,118.8 L578.6,110.8 C580.5,109.8 583.5,110.5 585.5,113.9 M582.6,118.2 L584.8,113.6" stroke="#2b2b2b" stroke-width="0.8" fill="none" />
<line x1="588.5" y1="152.3" x2="588.5" y2="236" stroke="#2b2b2b" stroke-width="1.1" />
<line x1="607.2" y1="144.8" x2="607.2" y2="198.4" stroke="#2b2b2b" stroke-width="1.1" />
<line x1="607.2" y1="220" x2="607.2" y2="243" stroke="#2b2b2b" stroke-width="1.1" />
<ellipse cx="628.2" cy="197.9" rx="22.6" ry="14.5" transform="rotate(56 628.2 197.9)" stroke="#2b2b2b" stroke-width="1.1" fill="#fff" />
<path d="M617.45,180.87 L618.26,180.69 L619.12,180.61 L620.02,180.61 L620.96,180.71 L621.93,180.91 L622.93,181.19 L623.95,181.56 L624.99,182.02 L626.04,182.57 L627.10,183.19 L628.15,183.90 L629.21,184.68 L630.25,185.54 L631.28,186.46 L632.29,187.45 L633.28,188.49 L634.24,189.59 L635.16,190.73 L636.05,191.92 L636.89,193.14 L637.68,194.39 L638.43,195.67 L639.11,196.96 L639.74,198.27 L640.31,199.57 L640.81,200.88 L641.25,202.17 L641.62,203.46 L641.91,204.71 L642.14,205.95 L642.29,207.14 L642.36,208.30 L642.36,209.41 L642.29,210.47 L642.14,211.47 L641.92,212.41 L641.62,213.29 L641.26,214.09 L640.82,214.82 L640.32,215.47" stroke="#9a9a9a" stroke-width="0.9" fill="none" />
<path d="M607.2,198.4 L621.4,191 C626,189 632,194 632.2,201.3 C632.4,204 631.5,206 631,206.9 L607.2,220 Z" stroke="#2b2b2b" stroke-width="0" fill="#fff" />
<path d="M607.2,198.4 L621.4,191 C626,189 632,194 632.2,201.3 C632.4,204 631.5,206 631,206.9 L607.2,220" stroke="#2b2b2b" stroke-width="1.1" fill="none" />
<circle cx="625.3" cy="187.0" r="2.3" stroke="#111" stroke-width="1.2" fill="#fff" />
<line x1="623.9" y1="185.8" x2="626.7" y2="188.2" stroke="#222" stroke-width="0.9" />
<line x1="588.5" y1="236" x2="588.5" y2="262" stroke="#2b2b2b" stroke-width="1.1" />
<ellipse cx="708.5" cy="304.9" rx="22.6" ry="14.5" transform="rotate(56 708.5 304.9)" stroke="#2b2b2b" stroke-width="1.1" fill="#fff" />
<path d="M697.75,287.87 L698.56,287.69 L699.42,287.61 L700.32,287.61 L701.26,287.71 L702.23,287.91 L703.23,288.19 L704.25,288.56 L705.29,289.02 L706.34,289.57 L707.40,290.19 L708.45,290.90 L709.51,291.68 L710.55,292.54 L711.58,293.46 L712.59,294.45 L713.58,295.49 L714.54,296.59 L715.46,297.73 L716.35,298.92 L717.19,300.14 L717.98,301.39 L718.73,302.67 L719.41,303.96 L720.04,305.27 L720.61,306.57 L721.11,307.88 L721.55,309.17 L721.92,310.46 L722.21,311.71 L722.44,312.95 L722.59,314.14 L722.66,315.30 L722.66,316.41 L722.59,317.47 L722.44,318.47 L722.22,319.41 L721.92,320.29 L721.56,321.09 L721.12,321.82 L720.62,322.47" stroke="#9a9a9a" stroke-width="0.9" fill="none" />
<path d="M588.5,262 C588.5,276 596,286.5 605.7,291.6 L655.7,320 C662,323.5 670,327 677.3,326.7 C686,326.5 694,323 700,320.5 L711.9,314.2 C712.8,311 712.5,306 710.5,302.5 C708.5,299 705,297 701.7,298.3 L689.8,306.3 C686,308 682,309 678.4,309.1 C674,309.2 670,308 665.9,305.8 L617,276.8 C611,274 607.3,268.5 607.3,262 Z" stroke="none" stroke-width="0" fill="#fff" />
<path d="M588.5,243 Q597.9,249.5 607.3,243" stroke="#1e1e1e" stroke-width="1.3" fill="none" />
<path d="M588.5,261 Q597.9,267.5 607.3,261" stroke="#c4c4c4" stroke-width="0.9" fill="none" />
<path d="M588.5,262 C588.5,276 596,286.5 605.7,291.6 L655.7,320 C662,323.5 670,327 677.3,326.7 C686,326.5 694,323 700,320.5 L711.9,314.2" stroke="#2b2b2b" stroke-width="1.1" fill="none" />
<path d="M607.3,243 L607.3,262 C607.3,268.5 611,274 617,276.8 L665.9,305.8 C670,308 674,309.2 678.4,309.1 C682,309 686,308 689.8,306.3 L701.7,298.3" stroke="#2b2b2b" stroke-width="1.1" fill="none" />
<path d="M701.7,298.3 C705,297 708.5,299 710.5,302.5 C712.5,306 712.8,311 711.9,314.2" stroke="#2b2b2b" stroke-width="1.1" fill="none" />
<path d="M614.2,276.3 C609,279 606,284 605.7,289.3" stroke="#c4c4c4" stroke-width="0.9" fill="none" />
<path d="M630.7,284.8 C625,287.5 621.8,293 621.4,300.1" stroke="#1e1e1e" stroke-width="1.3" fill="none" />
<path d="M650.6,296.7 C645,299 642.2,305 642,312.6" stroke="#1e1e1e" stroke-width="1.3" fill="none" />
<path d="M665.3,305.2 C660.5,308 657.6,313 657.4,320" stroke="#c4c4c4" stroke-width="0.9" fill="none" />
<path d="M690.9,305.7 C695,309 698,314 698.9,319.3" stroke="#c4c4c4" stroke-width="0.9" fill="none" />
<ellipse cx="716.5" cy="313.1" rx="2.4" ry="2.2" transform="rotate(40 716.5 313.1)" stroke="#111" stroke-width="1.3" fill="#fff" />
<line x1="715.1" y1="311.8" x2="717.9" y2="314.4" stroke="#222" stroke-width="0.9" />
<line x1="504.0" y1="409.6" x2="742.8" y2="409.6" stroke="#444" stroke-width="1.0" />
<line x1="504.0" y1="409.6" x2="504.0" y2="519.3" stroke="#444" stroke-width="1.0" />
<line x1="504.0" y1="420.7" x2="649.0" y2="420.7" stroke="#444" stroke-width="1.0" />
<line x1="649.0" y1="409.6" x2="649.0" y2="420.7" stroke="#444" stroke-width="1.0" />
<text x="506.4" y="418.6" font-size="7.2" text-anchor="start" fill="#333" font-weight="normal" font-style="normal" textLength="140.5" lengthAdjust="spacingAndGlyphs" >CONCEALED MOUNTING FLANGE DETAIL</text>
<circle cx="617.2" cy="476.3" r="37.0" stroke="#2a2a2a" stroke-width="2.3" fill="none" />
<circle cx="617.2" cy="476.3" r="28.2" stroke="#666" stroke-width="0.7" fill="none" stroke-dasharray="2.5,2"/>
<circle cx="617.2" cy="448.1" r="4.1" stroke="#333" stroke-width="1.0" fill="none" />
<circle cx="631.3000000000001" cy="451.8780836132788" r="4.1" stroke="#333" stroke-width="1.0" fill="none" />
<circle cx="641.6219163867212" cy="462.2" r="4.1" stroke="#333" stroke-width="1.0" fill="none" />
<circle cx="645.4000000000001" cy="476.3" r="2.4" stroke="#111" stroke-width="1.3" fill="#666" />
<circle cx="641.6219163867212" cy="490.4" r="4.1" stroke="#333" stroke-width="1.0" fill="none" />
<circle cx="631.3000000000001" cy="500.7219163867212" r="4.1" stroke="#333" stroke-width="1.0" fill="none" />
<circle cx="617.2" cy="504.5" r="4.1" stroke="#333" stroke-width="1.0" fill="none" />
<circle cx="603.1" cy="500.7219163867212" r="4.1" stroke="#333" stroke-width="1.0" fill="none" />
<circle cx="592.7780836132789" cy="490.40000000000003" r="4.1" stroke="#333" stroke-width="1.0" fill="none" />
<circle cx="589.0" cy="476.3" r="2.4" stroke="#444" stroke-width="0.9" fill="none" />
<circle cx="592.7780836132789" cy="462.2" r="4.1" stroke="#333" stroke-width="1.0" fill="none" />
<circle cx="603.1" cy="451.8780836132789" r="4.1" stroke="#333" stroke-width="1.0" fill="none" />
<circle cx="617.2" cy="476.3" r="15.0" stroke="#222" stroke-width="1.1" fill="none" />
<circle cx="617.2" cy="476.3" r="11.2" stroke="#aaa" stroke-width="0.8" fill="none" />
<circle cx="617.2" cy="476.3" r="7.8" stroke="#333" stroke-width="1.0" fill="none" />
<circle cx="617.2" cy="476.3" r="3.0" stroke="#1a1a1a" stroke-width="1.7" fill="none" />
<line x1="576.2" y1="447.6" x2="611" y2="447.6" stroke="#444" stroke-width="0.8" />
<line x1="576.2" y1="504.7" x2="611" y2="504.7" stroke="#444" stroke-width="0.8" />
<line x1="576.2" y1="447.6" x2="576.2" y2="504.7" stroke="#444" stroke-width="0.8" />
<path d="M576.20,447.80 L577.20,451.30 L575.20,451.30 Z" fill="#1a1a1a"/>
<path d="M576.20,504.50 L575.20,501.00 L577.20,501.00 Z" fill="#1a1a1a"/>
<text x="567.4" y="475.6" font-size="6.8" text-anchor="middle" fill="#3a3a3a" font-weight="normal" font-style="normal" transform="rotate(-90 567.4 475.6)" textLength="24.7" lengthAdjust="spacingAndGlyphs" >[3-19/64"]</text>
<text x="575.4" y="475.6" font-size="6.2" text-anchor="middle" fill="#3a3a3a" font-weight="normal" font-style="normal" transform="rotate(-90 575.4 475.6)" textLength="24.7" lengthAdjust="spacingAndGlyphs" >Ø83mm</text>
<ellipse cx="519.8" cy="445.4" rx="22.0" ry="12.0" transform="rotate(-64 519.8 445.4)" stroke="#222" stroke-width="0.9" fill="#fff" />
<ellipse cx="523.0" cy="446.4" rx="20.0" ry="9.8" transform="rotate(-69 523.0 446.4)" stroke="#111" stroke-width="1.7" fill="#fff" />
<ellipse cx="553.0" cy="441.0" rx="21.2" ry="12.3" transform="rotate(56 553.0 441.0)" stroke="#111" stroke-width="1.5" fill="#fff" />
<path d="M546.46,424.25 L547.41,424.30 L548.39,424.46 L549.41,424.72 L550.45,425.08 L551.51,425.54 L552.58,426.09 L553.66,426.74 L554.74,427.48 L555.82,428.30 L556.88,429.20 L557.92,430.18 L558.93,431.22 L559.91,432.33 L560.85,433.49 L561.75,434.70 L562.59,435.94 L563.38,437.22 L564.11,438.53 L564.78,439.85 L565.37,441.18 L565.90,442.51 L566.35,443.83 L566.72,445.14 L567.00,446.42 L567.21,447.67 L567.33,448.88 L567.37,450.04 L567.32,451.14 L567.19,452.19 L566.97,453.17 L566.68,454.07 L566.30,454.90 L565.84,455.64 L565.31,456.29 L564.70,456.85 L564.03,457.31 L563.29,457.67 L562.49,457.93 L561.64,458.09 L560.74,458.15" stroke="#666" stroke-width="0.7" fill="none" />
<ellipse cx="552.6" cy="441.8" rx="16.8" ry="9.0" transform="rotate(56 552.6 441.8)" stroke="#9a9a9a" stroke-width="3.2" fill="none" />
<ellipse cx="552.4" cy="442.0" rx="13.6" ry="6.2" transform="rotate(56 552.4 442.0)" stroke="#111" stroke-width="1.3" fill="none" />
<circle cx="543.41" cy="427.67" r="1.4" stroke="#111" stroke-width="1.0" fill="#333" />
<circle cx="546.98" cy="426.81" r="1.4" stroke="#111" stroke-width="1.0" fill="#333" />
<circle cx="551.43" cy="428.19" r="1.4" stroke="#111" stroke-width="1.0" fill="#333" />
<circle cx="556.1" cy="431.62" r="1.4" stroke="#111" stroke-width="1.0" fill="#333" />
<circle cx="560.26" cy="436.57" r="1.4" stroke="#111" stroke-width="1.0" fill="#333" />
<circle cx="563.29" cy="442.28" r="1.4" stroke="#111" stroke-width="1.0" fill="#333" />
<circle cx="564.72" cy="447.89" r="1.4" stroke="#111" stroke-width="1.0" fill="#333" />
<circle cx="564.33" cy="452.54" r="1.4" stroke="#111" stroke-width="1.0" fill="#333" />
<circle cx="562.19" cy="455.53" r="1.4" stroke="#111" stroke-width="1.0" fill="#333" />
<circle cx="558.62" cy="456.39" r="1.4" stroke="#111" stroke-width="1.0" fill="#333" />
<circle cx="554.17" cy="455.01" r="1.4" stroke="#111" stroke-width="1.0" fill="#333" />
<circle cx="549.5" cy="451.58" r="1.4" stroke="#111" stroke-width="1.0" fill="#333" />
<circle cx="545.34" cy="446.63" r="1.4" stroke="#111" stroke-width="1.0" fill="#333" />
<circle cx="542.31" cy="440.92" r="1.4" stroke="#111" stroke-width="1.0" fill="#333" />
<circle cx="540.88" cy="435.31" r="1.4" stroke="#111" stroke-width="1.0" fill="#333" />
<circle cx="541.27" cy="430.66" r="1.4" stroke="#111" stroke-width="1.0" fill="#333" />
<path d="M513.9,451.4 C513.5,444 517,438 521.2,436.8 C524,436 526,438 527.5,437.5 C529,436.5 530,434 532,434.5 C534,435 535,438 536.5,438.2 C540,437 544,433.5 548.9,433.5 C554,434 557.5,440 557.2,446 C556.5,449 553,451 549.8,451.6 C545,453 540,456.5 530.3,457.7 C523,458.2 516,456 513.9,451.4 Z" stroke="#111" stroke-width="1.1" fill="#fff" />
<path d="M516.6,447.3 C517.5,443 520,440.5 523.9,440 M547.5,438.9 C549.5,442 549.8,447 548.9,450.7" stroke="#888" stroke-width="0.6" fill="none" />
<path d="M690.3,459.2 L684,459.2 C672,459.2 665.2,467 665.2,476.7 C665.2,486.5 672,494.2 684,494.2 L690.3,494.2" stroke="#2b2b2b" stroke-width="1.1" fill="#fff" />
<rect x="690.3" y="438.0" width="12.9" height="77.2" rx="1.0" stroke="#2b2b2b" stroke-width="1.1" fill="#fff" />
<line x1="703.2" y1="459.2" x2="726.3" y2="459.2" stroke="#2b2b2b" stroke-width="1.0" />
<line x1="703.2" y1="494.2" x2="728.8" y2="494.2" stroke="#2b2b2b" stroke-width="1.0" />
<path d="M727.2,440.6 L737.3,440.6 L737.3,514.3 L727.2,514.3 Q726.2,514.3 726.2,513.2 Q726.2,511.8 727.2,511.8 L728.8,511.8 L728.8,481.1 L726.2,481.1 L726.2,473.4 L731.3,473.4 L731.3,442.8 L727.2,442.8 Q726.2,442.8 726.2,441.7 Q726.2,440.6 727.2,440.6 Z" stroke="#2b2b2b" stroke-width="1.0" fill="#fff" />
<line x1="733.6" y1="444" x2="733.6" y2="511.5" stroke="#aaa" stroke-width="0.7" />
<rect x="731.6" y="444.5" width="5.4" height="31.5" rx="0" stroke="#111" stroke-width="0.2" fill="#1c1c1c" />
<rect x="732.6" y="451.2" width="3.2" height="2.0" rx="0" stroke="#fff" stroke-width="0" fill="#fff" />
<path d="M721.1,463.2 L731.3,463.2 L731.3,475.0 C726,473 722,468.5 721.1,463.2 Z" stroke="#2b2b2b" stroke-width="0.9" fill="#fff" />
<path d="M724,465 L731,472" stroke="#555" stroke-width="0.6" fill="none" />
<line x1="669.7" y1="452.3" x2="734.5" y2="452.3" stroke="#333" stroke-width="0.8" />
<line x1="733.5" y1="425" x2="733.5" y2="439.4" stroke="#333" stroke-width="0.8" />
<line x1="680.5" y1="507.8" x2="696.7" y2="508.0" stroke="#333" stroke-width="0.8" />
<text x="701" y="418.2" font-size="5.6" text-anchor="start" fill="#3a3a3a" font-weight="normal" font-style="normal" textLength="35.4" lengthAdjust="spacingAndGlyphs" >POLYAMIDE-6</text>
<text x="701" y="426.6" font-size="5.6" text-anchor="start" fill="#3a3a3a" font-weight="normal" font-style="normal" textLength="37" lengthAdjust="spacingAndGlyphs" >BACK FLANGE</text>
<text x="647.7" y="444.9" font-size="5.6" text-anchor="start" fill="#3a3a3a" font-weight="normal" font-style="normal" textLength="40.3" lengthAdjust="spacingAndGlyphs" >STAINLESS STEEL</text>
<text x="647.7" y="453.0" font-size="5.6" text-anchor="start" fill="#3a3a3a" font-weight="normal" font-style="normal" textLength="20.3" lengthAdjust="spacingAndGlyphs" >FLANGE</text>
<text x="658.3" y="504.8" font-size="5.6" text-anchor="start" fill="#3a3a3a" font-weight="normal" font-style="normal" textLength="24.7" lengthAdjust="spacingAndGlyphs" >SNAP ON</text>
<text x="658.3" y="512.9" font-size="5.6" text-anchor="start" fill="#3a3a3a" font-weight="normal" font-style="normal" textLength="19.6" lengthAdjust="spacingAndGlyphs" >COVER</text>
</svg>
</body></html>
